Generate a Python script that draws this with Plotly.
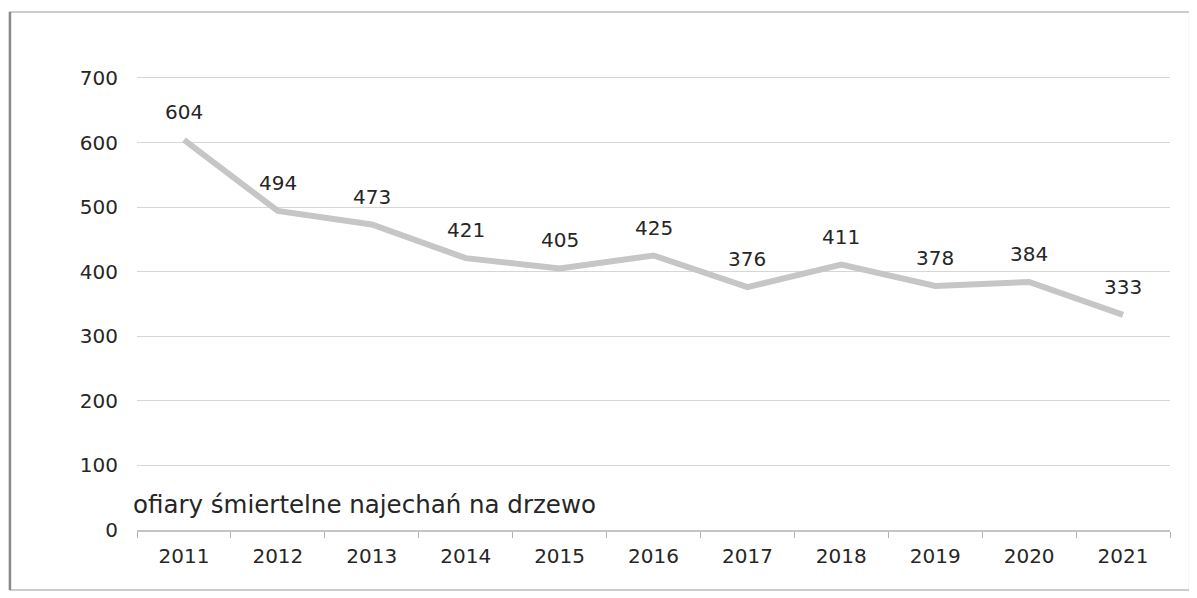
import plotly.graph_objects as go

# Ofiary śmiertelne najechań na drzewo, 2011-2021
years = ["2011", "2012", "2013", "2014", "2015", "2016", "2017", "2018", "2019", "2020", "2021"]
deaths = [604, 494, 473, 421, 405, 425, 376, 411, 378, 384, 333]
y_ticks = [0, 100, 200, 300, 400, 500, 600, 700]

font_family = "DejaVu Sans"
text_color = "#262626"

fig = go.Figure()

fig.add_trace(go.Scatter(
    x=years,
    y=deaths,
    mode="lines",
    line=dict(color="#c6c6c6", width=6),
    hoverinfo="x+y",
    showlegend=False,
))

# value labels above the points (category index so the axis stays categorical)
for i, val in enumerate(deaths):
    fig.add_annotation(
        x=i, y=val, text=str(val), showarrow=False,
        yshift=28, font=dict(size=20, color=text_color, family=font_family),
    )

fig.add_annotation(
    x=0, y=0, xref="paper", yref="paper", xanchor="left", yanchor="bottom",
    text="ofiary śmiertelne najechań na drzewo", showarrow=False, yshift=9, xshift=-6,
    font=dict(size=24.5, color=text_color, family=font_family),
)

# outer frame of the chart
fig.add_shape(type="rect", xref="paper", yref="paper",
              x0=-0.123, x1=1.019, y0=-0.132, y1=1.141,
              line=dict(color="#bdbdbd", width=1.5), layer="below")
fig.add_shape(type="line", xref="paper", yref="paper",
              x0=-0.123, x1=-0.123, y0=-0.132, y1=1.141,
              line=dict(color="#8a8a8a", width=2.5))

fig.update_layout(
    width=1197, height=598,
    margin=dict(l=129, r=35, t=68, b=76, autoexpand=False),
    paper_bgcolor="white", plot_bgcolor="white",
    font=dict(family=font_family, size=20, color=text_color),
    xaxis=dict(
        type="category", range=[-0.5, len(years) - 0.5],
        tickson="boundaries", ticks="outside", ticklen=6, tickangle=0,
        tickcolor="#b0b0b0", showline=True, linecolor="#c4c4c4", linewidth=1.5,
        ticklabelstandoff=7,
        showgrid=False, tickfont=dict(size=20), fixedrange=True, automargin=False,
    ),
    yaxis=dict(
        range=[0, 703], tickvals=y_ticks, showgrid=True, gridcolor="#d6d6d6",
        gridwidth=1.2, zeroline=False, showline=False, ticks="",
        ticklabelstandoff=18, tickfont=dict(size=20), fixedrange=True, automargin=False,
    ),
)

fig.write_html("out.html")
